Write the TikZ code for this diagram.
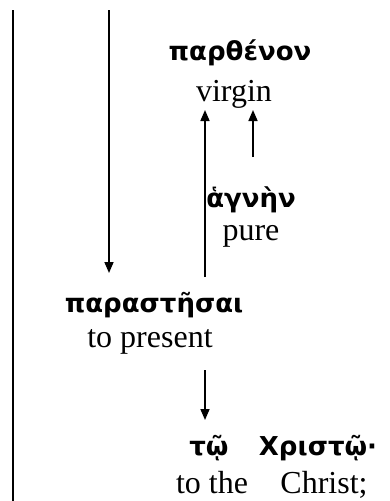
\documentclass[tikz,border=0pt]{standalone}
\usepackage{fontspec}
\setmainfont{Liberation Serif}
\newfontfamily\greekfont[Script=Greek]{DejaVu Sans}
\usetikzlibrary{arrows.meta}
\tikzset{
  gk/.style={font=\greekfont\bfseries\fontsize{26}{30}\selectfont, inner sep=0pt, anchor=base},
  en/.style={font=\fontsize{32}{36}\selectfont, inner sep=0pt, anchor=base},
  conn/.style={line width=1.6pt},
  arr/.style={line width=1.6pt, -{Triangle[width=9pt,length=11pt]}}
}
\begin{document}
\begin{tikzpicture}[x=1pt,y=-1pt]
\useasboundingbox (0,0) rectangle (390,501);
% nodes (base anchors)
\node[gk] (parth) at (240,60) {παρθένον};
\node[en] (virgin) at (234,101) {virgin};
\node[gk] (hagnen) at (251,207) {ἁγνὴν};
\node[en] (pure) at (251,240) {pure};
\node[gk] (parast) at (154,312) {παραστῆσαι};
\node[en] (present) at (150,347) {to present};
\node[gk] (to) at (209,455) {τῷ};
\node[gk] (christo) at (318,455) {Χριστῷ·};
\node[en] (tothe) at (212,493) {to the};
\node[en] (christ) at (324,493) {Christ;};
% coordinates
\coordinate (l1t) at (13,10);
\coordinate (l1b) at (13,501);
\coordinate (l2t) at (109,10);
\coordinate (l2b) at (109,273);
\coordinate (u1b) at (205,277);
\coordinate (u1t) at (205,110);
\coordinate (u2b) at (253,157);
\coordinate (u2t) at (253,110);
\coordinate (d1t) at (205,370);
\coordinate (d1b) at (205,420);
% connectors
\draw[conn] (l1t) -- (l1b);
\draw[arr] (l2t) -- (l2b);
\draw[arr] (u1b) -- (u1t);
\draw[arr] (u2b) -- (u2t);
\draw[arr] (d1t) -- (d1b);
\end{tikzpicture}
\end{document}
